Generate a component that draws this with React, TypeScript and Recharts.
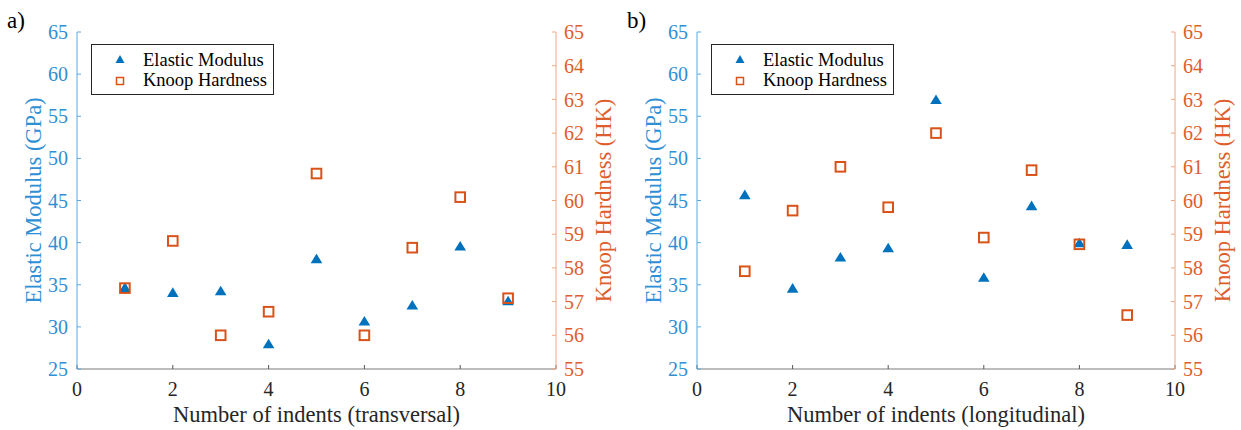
import React from 'react';
import { ScatterChart, Scatter, XAxis, YAxis, Legend } from 'recharts';

// indents along each direction
const indents = [1, 2, 3, 4, 5, 6, 7, 8, 9];

// a) transversal
const modulusTransversal = [34.7, 34.1, 34.3, 28.0, 38.1, 30.7, 32.6, 39.6, 33.1];
const hardnessTransversal = [57.4, 58.8, 56.0, 56.7, 60.8, 56.0, 58.6, 60.1, 57.1];

// b) longitudinal
const modulusLongitudinal = [45.7, 34.6, 38.3, 39.4, 57.0, 35.9, 44.4, 40.0, 39.8];
const hardnessLongitudinal = [57.9, 59.7, 61.0, 59.8, 62.0, 58.9, 60.9, 58.7, 56.6];

const xTicks = [0, 2, 4, 6, 8, 10];
const modulusTicks = [25, 30, 35, 40, 45, 50, 55, 60, 65];
const hardnessTicks = [55, 56, 57, 58, 59, 60, 61, 62, 63, 64, 65];

const BLUE = '#0072BD';
const BLUE_TEXT = '#2F8FD5';
const BLUE_LINE = '#5AAAE0';
const ORANGE = '#D95319';
const ORANGE_TEXT = '#DD5E2C';
const ORANGE_LINE = '#F0A585';
const DARK = '#262626';
const FONT = 'Liberation Serif';

const toPoints = (ys: number[]) => indents.map((x, i) => ({ x, y: ys[i] }));

const Triangle = (props: any) => {
  const { cx, cy } = props;
  if (cx == null || cy == null) return null;
  return (
    <polygon
      points={`${cx},${cy - 5} ${cx - 5.8},${cy + 4.6} ${cx + 5.8},${cy + 4.6}`}
      fill={BLUE}
    />
  );
};

const Square = (props: any) => {
  const { cx, cy } = props;
  if (cx == null || cy == null) return null;
  return (
    <rect x={cx - 4.8} y={cy - 4.8} width={9.6} height={9.6} fill="none" stroke={ORANGE} strokeWidth={2} />
  );
};

const LegendBox = () => (
  <svg width={184} height={52} style={{ display: 'block' }}>
    <rect x={0.5} y={0.5} width={182} height={50} fill="#fff" stroke={DARK} strokeWidth={1} />
    <polygon points="29,11 24.5,19 33.5,19" fill={BLUE} />
    <rect x={25.5} y={33.5} width={7} height={7} fill="none" stroke={ORANGE} strokeWidth={1.5} />
    <text x={52} y={21.5} fontSize={18.5} fill="#000" fontFamily={FONT}>Elastic Modulus</text>
    <text x={52} y={42} fontSize={18.5} fill="#000" fontFamily={FONT}>Knoop Hardness</text>
  </svg>
);

const axisTitle = (text: string, color: string, dx: number) => (p: any) => {
  const vb = p.viewBox || {};
  const x = vb.x + dx;
  const y = vb.y + vb.height / 2;
  return (
    <text
      x={x}
      y={y}
      transform={`rotate(-90 ${x} ${y})`}
      textAnchor="middle"
      dominantBaseline="central"
      fill={color}
      fontSize={22.5}
      fontFamily={FONT}
    >
      {text}
    </text>
  );
};

interface PanelProps {
  letter: string;
  xLabel: string;
  modulus: number[];
  hardness: number[];
  width: number;
  rightWidth: number;
}

function Panel({ letter, xLabel, modulus, hardness, width, rightWidth }: PanelProps) {
  return (
    <div style={{ position: 'relative', width, height: 430 }}>
      <ScatterChart width={width} height={430} margin={{ top: 32, right: 0, bottom: 0, left: 0 }}>
        <XAxis
          type="number"
          dataKey="x"
          domain={[0, 10]}
          ticks={xTicks}
          interval={0}
          height={61}
          axisLine={{ stroke: '#7a7a7a' }}
          tickLine={{ stroke: '#555' }}
          tickSize={-4}
          tickMargin={17}
          tick={{ fill: DARK, fontSize: 20, fontFamily: FONT }}
          label={{ value: xLabel, position: 'insideBottom', offset: 8, fill: DARK, fontSize: 22.5, fontFamily: FONT }}
        />
        <YAxis
          yAxisId="left"
          type="number"
          dataKey="y"
          domain={[25, 65]}
          ticks={modulusTicks}
          interval={0}
          width={77}
          axisLine={{ stroke: BLUE_LINE }}
          tickLine={{ stroke: BLUE_LINE }}
          tickSize={-4}
          tickMargin={13}
          tick={{ fill: BLUE_TEXT, fontSize: 20, fontFamily: FONT }}
          label={{ content: axisTitle('Elastic Modulus (GPa)', BLUE_TEXT, 33) }}
        />
        <YAxis
          yAxisId="right"
          orientation="right"
          type="number"
          dataKey="y"
          domain={[55, 65]}
          ticks={hardnessTicks}
          interval={0}
          width={rightWidth}
          axisLine={{ stroke: ORANGE_LINE }}
          tickLine={{ stroke: ORANGE_LINE }}
          tickSize={-4}
          tickMargin={12}
          tick={{ fill: ORANGE_TEXT, fontSize: 20, fontFamily: FONT }}
          label={{ content: axisTitle('Knoop Hardness (HK)', ORANGE_TEXT, 47) }}
        />
        <Legend
          layout="horizontal"
          verticalAlign="middle"
          align="center"
          content={() => <LegendBox />}
          wrapperStyle={{ position: 'absolute', left: 91, top: 44, width: 184, height: 52 }}
        />
        <Scatter
          name="Elastic Modulus"
          yAxisId="left"
          data={toPoints(modulus)}
          shape={Triangle}
          isAnimationActive={false}
        />
        <Scatter
          name="Knoop Hardness"
          yAxisId="right"
          data={toPoints(hardness)}
          shape={Square}
          isAnimationActive={false}
        />
      </ScatterChart>
      <svg width={40} height={40} style={{ position: 'absolute', left: 0, top: 0 }}>
        <text x={7} y={28} fontSize={23} fill="#000" fontFamily={FONT}>{letter}</text>
      </svg>
    </div>
  );
}

export default function App() {
  return (
    <div
      style={{
        position: 'absolute',
        left: 0,
        top: 0,
        width: 1241,
        height: 430,
        background: '#fff',
        display: 'flex',
      }}
    >
      <Panel
        letter="a)"
        xLabel="Number of indents (transversal)"
        modulus={modulusTransversal}
        hardness={hardnessTransversal}
        width={620}
        rightWidth={64}
      />
      <Panel
        letter="b)"
        xLabel="Number of indents (longitudinal)"
        modulus={modulusLongitudinal}
        hardness={hardnessLongitudinal}
        width={621}
        rightWidth={66}
      />
    </div>
  );
}
